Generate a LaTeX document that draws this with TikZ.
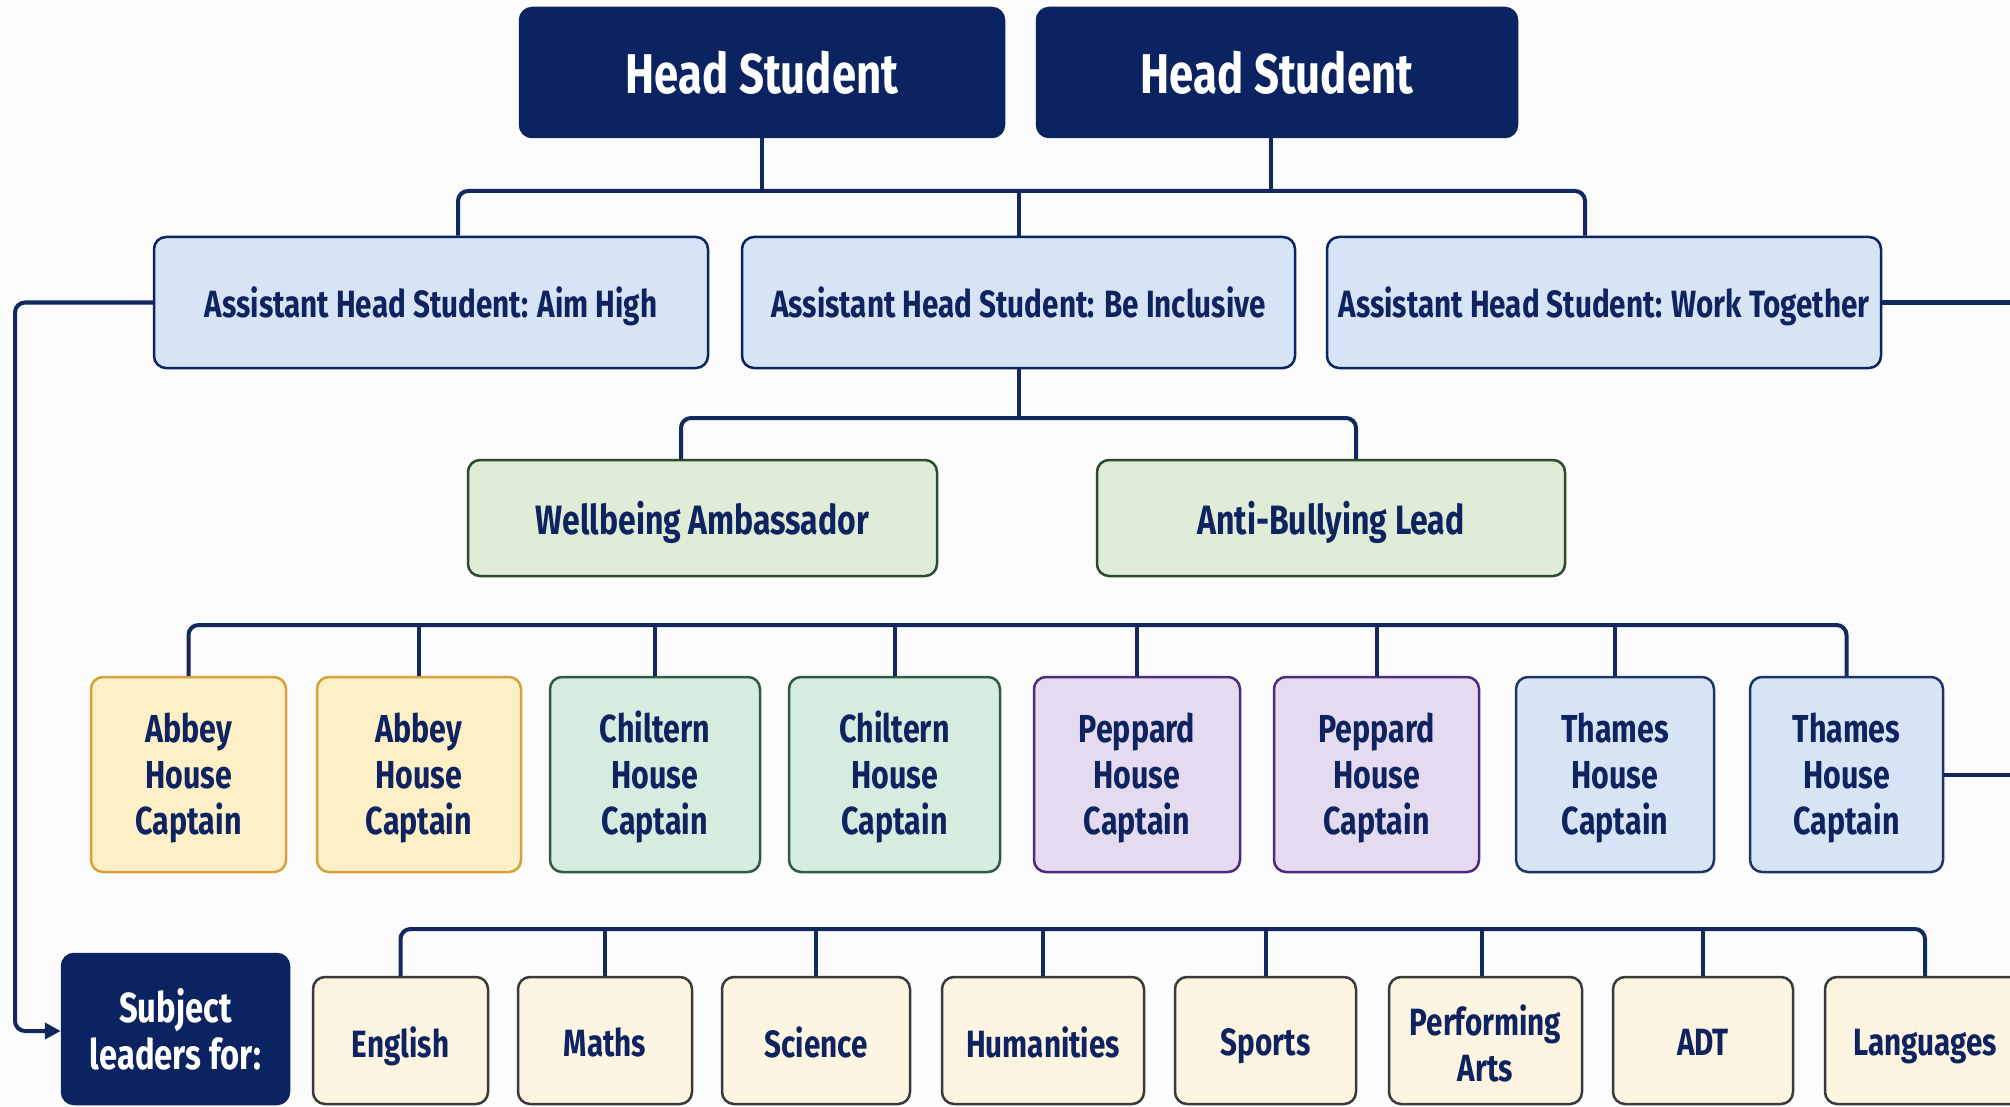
\documentclass[tikz,border=0pt]{standalone}
\usepackage{fontspec}
\setmainfont{Fira Sans}[FakeStretch=0.78]
\usetikzlibrary{arrows.meta}
\definecolor{navy}{HTML}{0B2461}
\definecolor{linec}{HTML}{13285F}
\definecolor{txt}{HTML}{0F2360}
\definecolor{bgc}{HTML}{FCFCFC}
\definecolor{ahsfill}{HTML}{D7E4F5}
\definecolor{wbfill}{HTML}{DFEDD8}
\definecolor{wbdraw}{HTML}{2C4A2E}
\definecolor{abfill}{HTML}{FDF0C6}
\definecolor{abdraw}{HTML}{D9A03A}
\definecolor{chfill}{HTML}{D5ECDF}
\definecolor{chdraw}{HTML}{2E5A46}
\definecolor{pefill}{HTML}{E4DBF1}
\definecolor{pedraw}{HTML}{4A2C80}
\definecolor{thfill}{HTML}{D7E4F5}
\definecolor{thdraw}{HTML}{1F3568}
\definecolor{sufill}{HTML}{FDF4E2}
\definecolor{sudraw}{HTML}{3A3A3A}
\newcommand\one[2][-4pt]{\raisebox{#1}[\height][\depth]{\vphantom{Ag}#2}}
\newcommand\captxt[1]{\raisebox{-5pt}[\height][\depth]{\begin{tabular}{@{}c@{}}#1\\House\\Captain\end{tabular}}}
\newcommand\pa{\raisebox{-9pt}[\height][\depth]{\begin{tabular}{@{}c@{}}Performing\\Arts\end{tabular}}}
\begin{document}
\begin{tikzpicture}[x=1pt,y=-1pt,
  box/.style={draw, rounded corners=12pt, line width=2.5pt, align=center, inner sep=0pt,
    text=txt, font=\fontsize{38}{46}\selectfont\bfseries},
  headbox/.style={box, fill=navy, draw=navy, text=white, font=\fontsize{56}{60}\selectfont\bfseries},
  ahs/.style={box, fill=ahsfill, draw=navy, minimum height=131pt},
  wb/.style={box, fill=wbfill, draw=wbdraw, minimum height=116pt, font=\fontsize{41}{48}\selectfont\bfseries},
  house/.style={box, minimum height=195pt, font=\fontsize{39}{46}\selectfont\bfseries},
  abbey/.style={house, fill=abfill, draw=abdraw},
  chil/.style={house, fill=chfill, draw=chdraw},
  pepp/.style={house, fill=pefill, draw=pedraw},
  tham/.style={house, fill=thfill, draw=thdraw},
  subj/.style={box, fill=sufill, draw=sudraw, minimum height=127pt},
  conn/.style={draw=linec, line width=4pt, rounded corners=10pt}
]
\fill[bgc] (0,0) rectangle (2010,1107);
\useasboundingbox (0,0) rectangle (2010,1107);
\clip (0,0) rectangle (2010,1107);

% Head students
\node[headbox, minimum width=484pt, minimum height=129pt] (hs1) at (762,72.5) {Head Student};
\node[headbox, minimum width=480pt, minimum height=129pt] (hs2) at (1277,72.5) {Head Student};

% Assistant heads
\node[ahs, minimum width=554pt] (a1) at (431,302.5) {\one{Assistant Head Student: Aim High}};
\node[ahs, minimum width=553pt] (a2) at (1018.5,302.5) {\one{Assistant Head Student: Be Inclusive}};
\node[ahs, minimum width=554pt] (a3) at (1604,302.5) {\one{Assistant Head Student: Work Together}};

% Wellbeing level
\node[wb, minimum width=469pt] (wb) at (702.5,518) {\one{Wellbeing Ambassador}};
\node[wb, minimum width=468pt] (ab) at (1331,518) {\one{Anti-Bullying Lead}};

% House captains
\node[abbey, minimum width=195pt] (h1) at (188.5,774.5) {\captxt{Abbey}};
\node[abbey, minimum width=204pt] (h2) at (419,774.5) {\captxt{Abbey}};
\node[chil, minimum width=210pt] (h3) at (655,774.5) {\captxt{Chiltern}};
\node[chil, minimum width=211pt] (h4) at (894.5,774.5) {\captxt{Chiltern}};
\node[pepp, minimum width=206pt] (h5) at (1137,774.5) {\captxt{Peppard}};
\node[pepp, minimum width=205pt] (h6) at (1376.5,774.5) {\captxt{Peppard}};
\node[tham, minimum width=198pt] (h7) at (1615,774.5) {\captxt{Thames}};
\node[tham, minimum width=193pt] (h8) at (1846.5,774.5) {\captxt{Thames}};

% Subject leaders
\node[box, fill=navy, draw=navy, text=white, minimum width=227pt, minimum height=150pt,
  font=\fontsize{42}{47}\selectfont\bfseries] (sl) at (175.5,1029) {Subject\\leaders for:};
\node[subj, minimum width=175pt] (s1) at (400.5,1040.5) {\one[-6pt]{English}};
\node[subj, minimum width=174pt] (s2) at (605,1040.5) {\one[-6pt]{Maths}};
\node[subj, minimum width=188pt] (s3) at (816,1040.5) {\one[-6pt]{Science}};
\node[subj, minimum width=202pt] (s4) at (1043,1040.5) {\one[-6pt]{Humanities}};
\node[subj, minimum width=181pt] (s5) at (1265.5,1040.5) {\one[-6pt]{Sports}};
\node[subj, minimum width=193pt] (s6) at (1485.5,1040.5) {\pa};
\node[subj, minimum width=180pt] (s7) at (1703,1040.5) {\one[-6pt]{ADT}};
\node[subj, minimum width=200pt] (s8) at (1925,1040.5) {\one[-6pt]{Languages}};

% Coordinates for bus lines
\coordinate (b1) at (458,191);
\coordinate (b3) at (1585,191);
\coordinate (c2) at (1271,191);
\coordinate (w1) at (681,418);
\coordinate (w2) at (1356,418);
\coordinate (p6) at (1482,929);
\coordinate (L) at (15,1031);
\coordinate (R) at (2010,0);

% Head -> assistants
\draw[conn] (a1.north -| b1) |- (b3) -- (a3.north -| b3);
\draw[conn] (hs1.south) -- (hs1.south |- b1);
\draw[conn] (hs2.south -| c2) -- (c2);
\draw[conn] (a2.north |- b1) -- (a2.north);

% Be Inclusive -> wellbeing / anti-bullying
\draw[conn] (wb.north -| w1) |- (w2) -- (ab.north -| w2);
\draw[conn] (a2.south) -- (a2.south |- w1);

% House captain bus
\draw[conn] (h1.north) |- (h8.north |- 0,625) -- (h8.north);
\foreach \n in {h2,h3,h4,h5,h6,h7}{
  \draw[conn] (\n.north |- 0,625) -- (\n.north);
}

% Subject bus
\draw[conn] (s1.north) |- (s8.north |- 0,929) -- (s8.north);
\foreach \n in {s2,s3,s4,s5,s7}{
  \draw[conn] (\n.north |- 0,929) -- (\n.north);
}
\draw[conn] (p6) -- (s6.north -| p6);

% Left loop with arrow
\draw[conn, -{Triangle[length=16pt,width=16pt]}] (a1.west) -| (L) -- (sl.west |- L);

% Right free ends
\draw[conn] (a3.east) -- (a3.east -| R);
\draw[conn] (h8.east) -- (h8.east -| R);
\end{tikzpicture}
\end{document}
